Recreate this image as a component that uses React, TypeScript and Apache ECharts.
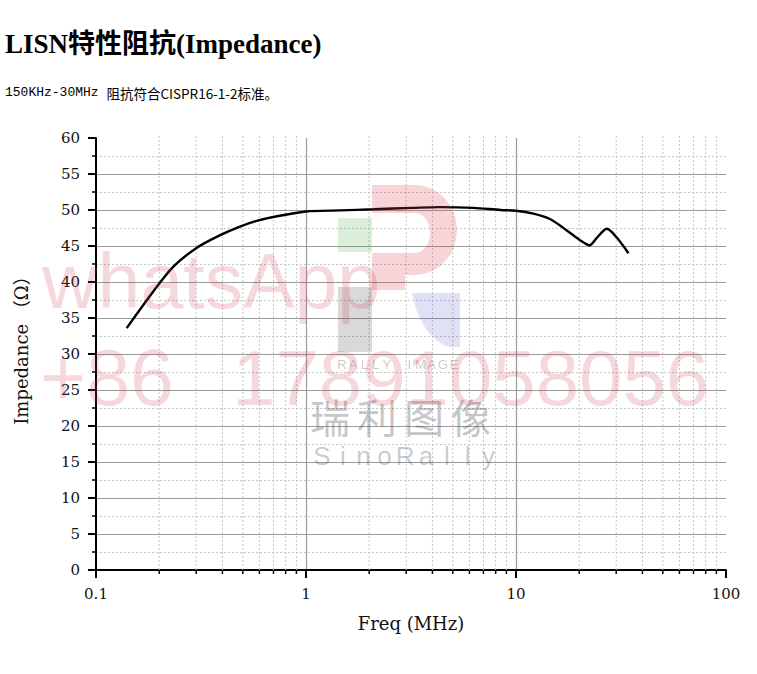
import React, { useEffect, useRef } from "react";
import * as echarts from "echarts";

// ---- data ----
const freqMHz = [0.14, 0.187, 0.233, 0.3, 0.39, 0.485, 0.6, 0.75, 1.0, 1.45, 2.09, 3.24, 4.3, 6.27, 8.44, 10, 12.1, 14.5, 17.4, 20.2, 22.4, 24.2, 27.1, 30.3, 34.3];
const impedanceOhm = [33.6, 38.65, 42.1, 44.7, 46.5, 47.7, 48.6, 49.2, 49.8, 49.95, 50.1, 50.3, 50.4, 50.3, 50.0, 49.9, 49.5, 48.75, 47.2, 45.8, 45.1, 46.1, 47.4, 46.1, 44.0];
const minorFreqs = [0.2, 0.3, 0.4, 0.5, 0.6, 0.7, 0.8, 0.9, 2, 3, 4, 5, 6, 7, 8, 9, 20, 30, 40, 50, 60, 70, 80, 90];
const xTickLabels = ["0.1", "1", "10", "100"];

const titleText = "LISN特性阻抗(Impedance)";
const subA = "150KHz-30MHz ";
const subB = "阻抗符合CISPR16-1-2标准。";

// watermark shapes
echarts.graphic.registerShape(
  "logoRed",
  echarts.graphic.extendPath(
    "M0 0 L43 0 A42 45 0 0 1 43 90 L33 90 L33 105 L0 105 L0 68 L43 68 A15 20 0 0 0 43 28 L0 28 Z",
    {}
  )
);
echarts.graphic.registerShape(
  "logoBlue",
  echarts.graphic.extendPath("M0 0 L48 0 L48 54 L36 54 Q8 42 0 0 Z", {})
);

function spacedText(str: string, x0: number, step: number, y: number, style: any) {
  return str.split("").map((ch, i) => ({
    type: "text",
    x: x0 + i * step,
    y,
    silent: true,
    z: 50,
    style: { text: ch, align: "center", ...style },
  }));
}

export default function App() {
  const ref = useRef<HTMLDivElement>(null);
  useEffect(() => {
    if (!ref.current) return;
    const chart = echarts.init(ref.current, null, { renderer: "svg" });
    const serif = "'DejaVu Serif', 'Liberation Serif', 'Noto Sans CJK SC', serif";
    const grayW = "rgba(90,90,90,0.33)";
    const pinkW = "rgba(200,60,75,0.2)";
    const option: any = {
      animation: false,
      backgroundColor: "#ffffff",
      title: [
        {
          text: titleText,
          left: 5,
          top: 30,
          padding: 0,
          textStyle: {
            fontFamily: "'Liberation Serif', 'Noto Sans CJK SC', serif",
            fontSize: 27,
            fontWeight: "bold",
            color: "#000",
          },
        },
        {
          text: "{a|" + subA + "}{b|" + subB + "}",
          left: 5,
          top: 86,
          padding: 0,
          textStyle: {
            fontWeight: "normal",
            rich: {
              a: { fontFamily: "'Liberation Mono', monospace", fontSize: 13, fontWeight: "normal", color: "#000" },
              b: { fontFamily: "'Noto Sans CJK SC', sans-serif", fontSize: 13.5, fontWeight: "normal", color: "#000" },
            },
          },
        },
      ],
      grid: {
        left: 96,
        right: 31,
        top: 138,
        bottom: 104,
        containLabel: false,
        outerBoundsMode: "none",
      },
      xAxis: {
        type: "log",
        logBase: 10,
        min: 0.1,
        max: 100,
        name: "Freq (MHz)",
        nameLocation: "middle",
        nameGap: 44,
        nameTextStyle: { fontFamily: serif, fontSize: 18, color: "#111" },
        axisLine: { show: true, lineStyle: { color: "#000", width: 2 } },
        axisTick: { show: true, length: 8, inside: false, lineStyle: { color: "#000", width: 2 } },
        axisLabel: {
          margin: 16,
          fontFamily: serif,
          fontSize: 15,
          color: "#111",
          formatter: (_v: number, i: number) => xTickLabels[i] ?? String(_v),
        },
        splitLine: {
          show: true,
          showMinLine: false,
          showMaxLine: false,
          lineStyle: { color: "#9a9a9a", width: 1.2 },
        },
      },
      yAxis: {
        type: "value",
        min: 0,
        max: 60,
        interval: 5,
        name: "Impedance （Ω）",
        nameLocation: "middle",
        nameGap: 66,
        nameRotate: 90,
        nameTextStyle: { fontFamily: serif, fontSize: 18, color: "#111", padding: [0, 0, 0, 16] },
        axisLine: { show: true, lineStyle: { color: "#000", width: 2 } },
        axisTick: { show: true, length: 8, inside: false, lineStyle: { color: "#000", width: 2 } },
        minorTick: { show: true, splitNumber: 2, length: 4, lineStyle: { color: "#000", width: 1.5 } },
        axisLabel: { margin: 16, fontFamily: serif, fontSize: 15, color: "#111" },
        splitLine: {
          show: true,
          showMinLine: false,
          showMaxLine: false,
          lineStyle: { color: "#9a9a9a", width: 1.2 },
        },
        minorSplitLine: { show: true, lineStyle: { color: "#c4c4c4", width: 1, type: [2, 2] } },
      },
      series: [
        {
          type: "custom",
          z: 1,
          silent: true,
          clip: false,
          data: minorFreqs.map((f) => [f, 0]),
          renderItem: (_params: any, api: any) => {
            const f = api.value(0);
            const p0 = api.coord([f, 0]);
            const p1 = api.coord([f, 60]);
            return {
              type: "group",
              children: [
                {
                  type: "line",
                  shape: { x1: p0[0], y1: p0[1], x2: p1[0], y2: p1[1] - 2 },
                  style: { stroke: "#c4c4c4", lineWidth: 1, lineDash: [2, 2] },
                },
                {
                  type: "line",
                  shape: { x1: p0[0], y1: p0[1], x2: p0[0], y2: p0[1] + 4 },
                  style: { stroke: "#000", lineWidth: 1.5 },
                },
              ],
            };
          },
        },
        {
          type: "line",
          z: 3,
          data: freqMHz.map((f, i) => [f, impedanceOhm[i]]),
          smooth: 0.3,
          showSymbol: false,
          symbol: "none",
          lineStyle: { color: "#000", width: 2.4 },
        },
      ],
      graphic: [
        // logo pieces
        { type: "rect", silent: true, z: 50, shape: { x: 338, y: 218, width: 34, height: 34 }, style: { fill: "rgba(70,170,70,0.2)" } },
        { type: "rect", silent: true, z: 50, shape: { x: 338, y: 287, width: 34, height: 65 }, style: { fill: "rgba(80,80,80,0.22)" } },
        { type: "logoRed", silent: true, z: 50, x: 372, y: 185, style: { fill: "rgba(220,60,75,0.22)" } },
        { type: "logoBlue", silent: true, z: 50, x: 412, y: 293, style: { fill: "rgba(90,90,200,0.18)" } },
        ...spacedText("RALLY IMAGE", 342, 11.2, 358, { font: "13px 'Liberation Sans', sans-serif", fill: grayW }),
        ...spacedText("瑞利图像", 330, 47, 396, { font: "40px 'Noto Sans CJK SC', sans-serif", fill: "rgba(90,90,90,0.35)" }),
        ...spacedText("SinoRally", 322, 20.8, 443, { font: "26px 'Liberation Sans', sans-serif", fill: grayW }),
        // watermark texts
        {
          type: "text",
          silent: true,
          z: 60,
          x: 42,
          y: 242,
          style: { text: "whatsApp", font: "77px 'Liberation Sans', sans-serif", fill: pinkW },
        },
        {
          type: "text",
          silent: true,
          z: 60,
          x: 40,
          y: 338,
          style: { text: "+86", font: "79px 'Liberation Sans', sans-serif", fill: pinkW },
        },
        {
          type: "text",
          silent: true,
          z: 60,
          x: 232,
          y: 339,
          style: { text: "17891058056", font: "78px 'Liberation Sans', sans-serif", fill: pinkW },
        },
      ],
    };
    chart.setOption(option);
    return () => chart.dispose();
  }, []);
  return (
    <div
      ref={ref}
      style={{ position: "absolute", left: 0, top: 0, width: 757, height: 674, background: "#fff" }}
    />
  );
}
